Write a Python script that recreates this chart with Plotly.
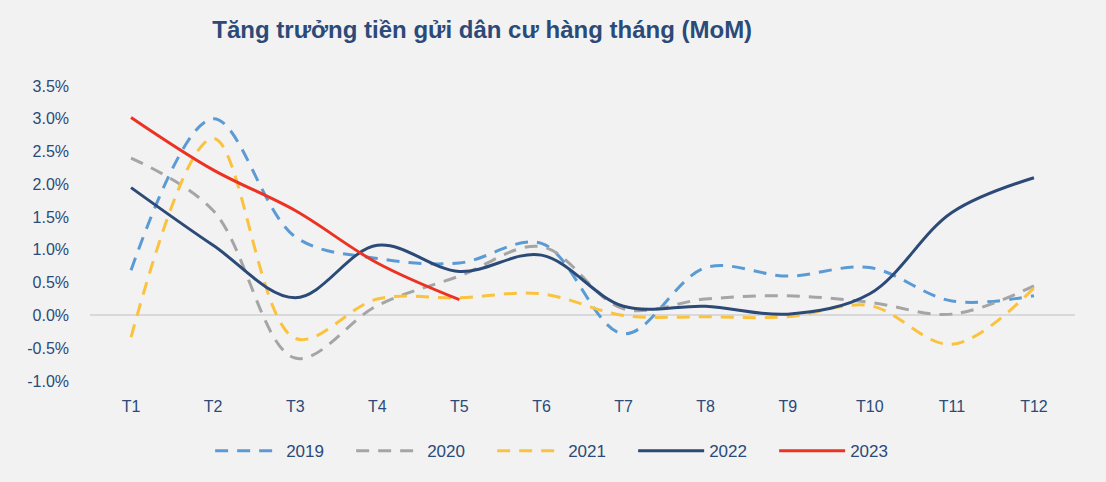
import plotly.graph_objects as go

months = ["T1", "T2", "T3", "T4", "T5", "T6", "T7", "T8", "T9", "T10", "T11", "T12"]
y2019 = [0.69, 3.0, 1.2, 0.87, 0.8, 1.1, -0.28, 0.73, 0.6, 0.73, 0.22, 0.3]
y2020 = [2.4, 1.6, -0.65, 0.15, 0.6, 1.05, 0.1, 0.25, 0.3, 0.2, 0.02, 0.45]
y2021 = [-0.33, 2.7, -0.35, 0.25, 0.27, 0.33, 0.0, -0.02, -0.02, 0.15, -0.44, 0.42]
y2022 = [1.95, 1.07, 0.27, 1.07, 0.67, 0.92, 0.14, 0.14, 0.02, 0.33, 1.57, 2.1]
y2023 = [3.02, 2.22, 1.6, 0.8, 0.24]

yticks = [-1.0, -0.5, 0.0, 0.5, 1.0, 1.5, 2.0, 2.5, 3.0, 3.5]
ytick_text = [f"{v:.1f}%" for v in yticks]

series = [
    ("2019", y2019, "#5b9bd5", "13px,9px"),
    ("2020", y2020, "#a5a5a5", "13px,9px"),
    ("2021", y2021, "#fbc23e", "13px,9px"),
    ("2022", y2022, "#2b4a78", "solid"),
    ("2023", y2023, "#ec3323", "solid"),
]

fig = go.Figure()
for name, vals, color, dash in series:
    fig.add_trace(go.Scatter(
        x=months[:len(vals)], y=vals, name=name, mode="lines",
        line=dict(color=color, width=3, dash=dash, shape="spline", smoothing=1.0),
    ))

fig.update_layout(
    width=1106, height=482,
    paper_bgcolor="#f2f2f2", plot_bgcolor="#f2f2f2",
    margin=dict(l=90, r=31, t=86, b=101),
    font=dict(family="Liberation Sans, Arial, sans-serif", color="#2b4a78", size=16),
    title=dict(text="<b>Tăng trưởng tiền gửi dân cư hàng tháng (MoM)</b>",
               x=0.436, xanchor="center", xref="container", y=0.938, yanchor="middle",
               yref="container", font=dict(size=24, color="#2b4a78",
                                           family="Liberation Sans Narrow, Liberation Sans, Arial, sans-serif")),
    showlegend=True,
    legend=dict(orientation="h", xref="container", x=0.19, xanchor="left",
                yref="container", y=0.064, yanchor="middle",
                font=dict(size=17, color="#2b4a78"), itemwidth=66,
                entrywidth=60, entrywidthmode="pixels",
                bgcolor="rgba(0,0,0,0)", traceorder="normal"),
)
fig.update_xaxes(range=[-0.5, 11.5], showgrid=False, showline=False, zeroline=False, ticks="",
                 tickfont=dict(size=16, color="#2b4a78"), ticklabelstandoff=14)
fig.update_yaxes(range=[-1.0, 3.5], tickvals=yticks, ticktext=ytick_text,
                 showgrid=False, zeroline=True, zerolinecolor="#d9d9d9", zerolinewidth=1.5,
                 showline=False, ticks="", tickfont=dict(size=16, color="#2b4a78"),
                 ticklabelstandoff=20)

fig.write_html("out.html", config={"displayModeBar": False},
               post_script="document.body.style.margin='0px';")
